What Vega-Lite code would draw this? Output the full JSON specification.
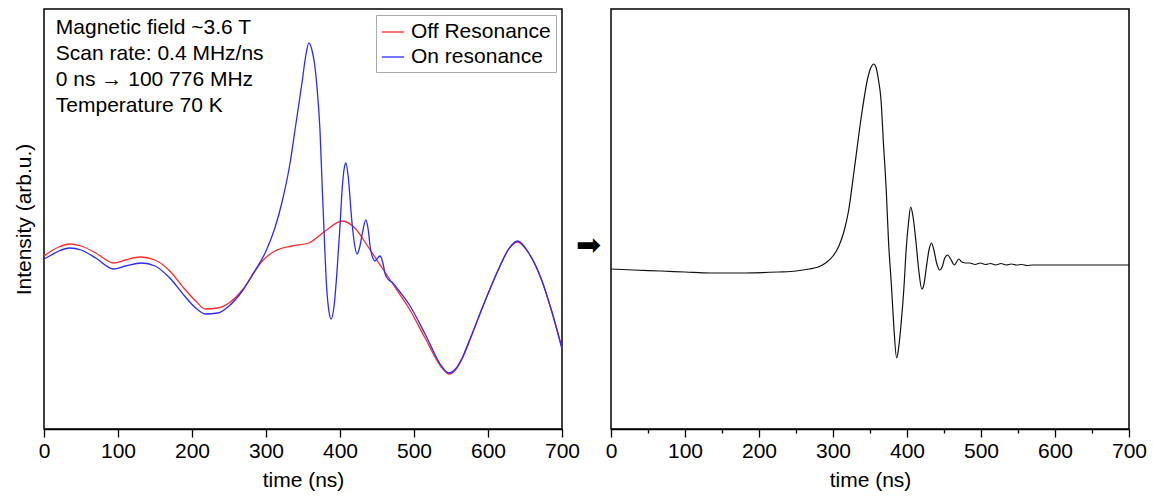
{
  "$schema": "https://vega.github.io/schema/vega-lite/v6.json",
  "padding": {"left": 12, "top": 8, "right": 10, "bottom": 0},
  "autosize": {"type": "pad"},
  "bounds": "flush",
  "spacing": 5,
  "resolve": {"scale": {"color": "independent"}, "legend": {"color": "independent"}},
  "config": {
    "font": "Liberation Sans",
    "view": {"stroke": "#000", "strokeWidth": 1.5},
    "axis": {
      "labelFont": "Liberation Sans", "titleFont": "Liberation Sans",
      "labelFontSize": 21, "titleFontSize": 21, "titleFontWeight": "normal",
      "labelColor": "#000", "titleColor": "#000", "domainColor": "#000", "tickColor": "#000",
      "domainWidth": 1.5, "tickWidth": 1.3, "grid": false
    }
  },
  "datasets": {
    "left": [
      {"series": "Off Resonance", "t": 0, "v": 173},
      {"series": "Off Resonance", "t": 10, "v": 178},
      {"series": "Off Resonance", "t": 20, "v": 182},
      {"series": "Off Resonance", "t": 35, "v": 185},
      {"series": "Off Resonance", "t": 50, "v": 183},
      {"series": "Off Resonance", "t": 70, "v": 176},
      {"series": "Off Resonance", "t": 94, "v": 166},
      {"series": "Off Resonance", "t": 110, "v": 169},
      {"series": "Off Resonance", "t": 130, "v": 172},
      {"series": "Off Resonance", "t": 150, "v": 169},
      {"series": "Off Resonance", "t": 170, "v": 158},
      {"series": "Off Resonance", "t": 190, "v": 140},
      {"series": "Off Resonance", "t": 205, "v": 128},
      {"series": "Off Resonance", "t": 218, "v": 120},
      {"series": "Off Resonance", "t": 235, "v": 121},
      {"series": "Off Resonance", "t": 250, "v": 126},
      {"series": "Off Resonance", "t": 268, "v": 139},
      {"series": "Off Resonance", "t": 285, "v": 158},
      {"series": "Off Resonance", "t": 295, "v": 168},
      {"series": "Off Resonance", "t": 312, "v": 178},
      {"series": "Off Resonance", "t": 335, "v": 183},
      {"series": "Off Resonance", "t": 358, "v": 186},
      {"series": "Off Resonance", "t": 380, "v": 198},
      {"series": "Off Resonance", "t": 403, "v": 208},
      {"series": "Off Resonance", "t": 420, "v": 201},
      {"series": "Off Resonance", "t": 439, "v": 181},
      {"series": "Off Resonance", "t": 457, "v": 161},
      {"series": "Off Resonance", "t": 475, "v": 141},
      {"series": "Off Resonance", "t": 493, "v": 121},
      {"series": "Off Resonance", "t": 515, "v": 91},
      {"series": "Off Resonance", "t": 538, "v": 61},
      {"series": "Off Resonance", "t": 547, "v": 55},
      {"series": "Off Resonance", "t": 556, "v": 59},
      {"series": "Off Resonance", "t": 565, "v": 70},
      {"series": "Off Resonance", "t": 574, "v": 86},
      {"series": "Off Resonance", "t": 596, "v": 128},
      {"series": "Off Resonance", "t": 615, "v": 161},
      {"series": "Off Resonance", "t": 628, "v": 180},
      {"series": "Off Resonance", "t": 640, "v": 187},
      {"series": "Off Resonance", "t": 655, "v": 176},
      {"series": "Off Resonance", "t": 673, "v": 148},
      {"series": "Off Resonance", "t": 686, "v": 118},
      {"series": "Off Resonance", "t": 700, "v": 81},
      {"series": "On resonance", "t": 0, "v": 170},
      {"series": "On resonance", "t": 10, "v": 174},
      {"series": "On resonance", "t": 20, "v": 178},
      {"series": "On resonance", "t": 35, "v": 181},
      {"series": "On resonance", "t": 50, "v": 179},
      {"series": "On resonance", "t": 70, "v": 171},
      {"series": "On resonance", "t": 94, "v": 160},
      {"series": "On resonance", "t": 110, "v": 163},
      {"series": "On resonance", "t": 132, "v": 166},
      {"series": "On resonance", "t": 150, "v": 163},
      {"series": "On resonance", "t": 170, "v": 151},
      {"series": "On resonance", "t": 190, "v": 133},
      {"series": "On resonance", "t": 205, "v": 121},
      {"series": "On resonance", "t": 218, "v": 115},
      {"series": "On resonance", "t": 235, "v": 116},
      {"series": "On resonance", "t": 250, "v": 123},
      {"series": "On resonance", "t": 268, "v": 138},
      {"series": "On resonance", "t": 285, "v": 158},
      {"series": "On resonance", "t": 300, "v": 178},
      {"series": "On resonance", "t": 312, "v": 201},
      {"series": "On resonance", "t": 322, "v": 228},
      {"series": "On resonance", "t": 333, "v": 268},
      {"series": "On resonance", "t": 339, "v": 298},
      {"series": "On resonance", "t": 345, "v": 328},
      {"series": "On resonance", "t": 349, "v": 348},
      {"series": "On resonance", "t": 353, "v": 370},
      {"series": "On resonance", "t": 358, "v": 386},
      {"series": "On resonance", "t": 363, "v": 376},
      {"series": "On resonance", "t": 366, "v": 363},
      {"series": "On resonance", "t": 369, "v": 341},
      {"series": "On resonance", "t": 373, "v": 298},
      {"series": "On resonance", "t": 376, "v": 241},
      {"series": "On resonance", "t": 379, "v": 188},
      {"series": "On resonance", "t": 382, "v": 141},
      {"series": "On resonance", "t": 385, "v": 118},
      {"series": "On resonance", "t": 388, "v": 110},
      {"series": "On resonance", "t": 392, "v": 123},
      {"series": "On resonance", "t": 396, "v": 158},
      {"series": "On resonance", "t": 400, "v": 203},
      {"series": "On resonance", "t": 403, "v": 241},
      {"series": "On resonance", "t": 406, "v": 262},
      {"series": "On resonance", "t": 408, "v": 266},
      {"series": "On resonance", "t": 411, "v": 253},
      {"series": "On resonance", "t": 416, "v": 208},
      {"series": "On resonance", "t": 420, "v": 183},
      {"series": "On resonance", "t": 423, "v": 175},
      {"series": "On resonance", "t": 427, "v": 183},
      {"series": "On resonance", "t": 430, "v": 195},
      {"series": "On resonance", "t": 435, "v": 209},
      {"series": "On resonance", "t": 438, "v": 200},
      {"series": "On resonance", "t": 441, "v": 181},
      {"series": "On resonance", "t": 445, "v": 170},
      {"series": "On resonance", "t": 447, "v": 168},
      {"series": "On resonance", "t": 451, "v": 171},
      {"series": "On resonance", "t": 454, "v": 173},
      {"series": "On resonance", "t": 458, "v": 166},
      {"series": "On resonance", "t": 461, "v": 155},
      {"series": "On resonance", "t": 466, "v": 149},
      {"series": "On resonance", "t": 470, "v": 147},
      {"series": "On resonance", "t": 480, "v": 138},
      {"series": "On resonance", "t": 493, "v": 125},
      {"series": "On resonance", "t": 515, "v": 95},
      {"series": "On resonance", "t": 538, "v": 62},
      {"series": "On resonance", "t": 547, "v": 56},
      {"series": "On resonance", "t": 556, "v": 60},
      {"series": "On resonance", "t": 565, "v": 71},
      {"series": "On resonance", "t": 574, "v": 87},
      {"series": "On resonance", "t": 596, "v": 128},
      {"series": "On resonance", "t": 615, "v": 161},
      {"series": "On resonance", "t": 628, "v": 180},
      {"series": "On resonance", "t": 640, "v": 188},
      {"series": "On resonance", "t": 655, "v": 176},
      {"series": "On resonance", "t": 673, "v": 148},
      {"series": "On resonance", "t": 686, "v": 118},
      {"series": "On resonance", "t": 700, "v": 80}
    ],
    "right": [
      {"t": 0, "v": 160}, {"t": 30, "v": 159}, {"t": 68, "v": 158}, {"t": 100, "v": 157},
      {"t": 135, "v": 156}, {"t": 180, "v": 156}, {"t": 226, "v": 157}, {"t": 250, "v": 158},
      {"t": 268, "v": 160}, {"t": 280, "v": 162}, {"t": 290, "v": 166}, {"t": 300, "v": 173},
      {"t": 308, "v": 183}, {"t": 315, "v": 198}, {"t": 321, "v": 218},
      {"t": 329, "v": 261}, {"t": 338, "v": 311}, {"t": 347, "v": 351},
      {"t": 351, "v": 361}, {"t": 355, "v": 365}, {"t": 358, "v": 362}, {"t": 361, "v": 351},
      {"t": 365, "v": 328}, {"t": 368, "v": 288}, {"t": 372, "v": 238}, {"t": 375, "v": 188},
      {"t": 379, "v": 143}, {"t": 382, "v": 105}, {"t": 386, "v": 71}, {"t": 389, "v": 83},
      {"t": 392, "v": 105}, {"t": 396, "v": 143}, {"t": 399, "v": 181}, {"t": 402, "v": 206},
      {"t": 405, "v": 222}, {"t": 408, "v": 213}, {"t": 412, "v": 188}, {"t": 416, "v": 158},
      {"t": 420, "v": 140}, {"t": 423, "v": 145}, {"t": 426, "v": 161}, {"t": 430, "v": 180},
      {"t": 433, "v": 186}, {"t": 436, "v": 180}, {"t": 440, "v": 166}, {"t": 444, "v": 159},
      {"t": 448, "v": 163}, {"t": 451, "v": 171}, {"t": 455, "v": 174}, {"t": 459, "v": 170},
      {"t": 464, "v": 164}, {"t": 467, "v": 167}, {"t": 470, "v": 170}, {"t": 474, "v": 167},
      {"t": 480, "v": 166}, {"t": 485, "v": 166}, {"t": 492, "v": 164.5}, {"t": 499, "v": 166},
      {"t": 506, "v": 164.5}, {"t": 513, "v": 165.5}, {"t": 520, "v": 164}, {"t": 527, "v": 165.5},
      {"t": 534, "v": 164}, {"t": 541, "v": 165}, {"t": 548, "v": 164}, {"t": 555, "v": 164.5},
      {"t": 562, "v": 163.5}, {"t": 570, "v": 164}, {"t": 600, "v": 164}, {"t": 650, "v": 164},
      {"t": 700, "v": 164}
    ]
  },
  "hconcat": [
    {
      "width": 518,
      "height": 420,
      "layer": [
        {
          "data": {"name": "left"},
          "mark": {"type": "line", "strokeWidth": 1.3, "interpolate": "monotone"},
          "encoding": {
            "x": {
              "field": "t", "type": "quantitative",
              "scale": {"domain": [0, 700], "nice": false},
              "axis": {
                "title": "time (ns)",
                "values": [0, 50, 100, 150, 200, 250, 300, 350, 400, 450, 500, 550, 600, 650, 700],
                "labelExpr": "datum.value % 100 === 0 ? datum.label : ''",
                "tickSize": {"condition": {"test": "datum.value % 100 === 0", "value": 8}, "value": 4},
                "labelPadding": 3, "titlePadding": 8, "labelFlush": false, "labelOverlap": false
              }
            },
            "y": {
              "field": "v", "type": "quantitative",
              "scale": {"domain": [0, 420], "nice": false, "zero": false},
              "axis": {"title": "Intensity (arb.u.)", "labels": false, "ticks": false, "domain": false, "titlePadding": 10}
            },
            "color": {
              "field": "series", "type": "nominal",
              "scale": {"domain": ["Off Resonance", "On resonance"], "range": ["#ff2a2a", "#2a2aff"]},
              "legend": {
                "orient": "top-right", "title": null, "offset": 6,
                "strokeColor": "#aaaaaa", "fillColor": "white", "padding": 5,
                "labelFontSize": 21, "labelFont": "Liberation Sans", "labelColor": "#000",
                "symbolType": "stroke", "symbolSize": 500, "symbolStrokeWidth": 1.3,
                "rowPadding": 3, "labelOffset": 6
              }
            }
          }
        },
        {
          "data": {"values": [{"note": "Magnetic field ~3.6 T\nScan rate: 0.4 MHz/ns\n0 ns → 100 776 MHz\nTemperature 70 K"}]},
          "mark": {"type": "text", "align": "left", "baseline": "top", "fontSize": 21, "lineHeight": 26, "lineBreak": "\n", "font": "Liberation Sans", "color": "#000"},
          "encoding": {
            "x": {"datum": 16, "type": "quantitative"},
            "y": {"datum": 412, "type": "quantitative"},
            "text": {"field": "note"}
          }
        }
      ]
    },
    {
      "width": 39,
      "height": 420,
      "view": {"stroke": null},
      "data": {"values": [{"a": "➡"}]},
      "mark": {"type": "text", "fontSize": 30, "dy": 27, "dx": 2, "font": "DejaVu Sans", "color": "#000"},
      "encoding": {"text": {"field": "a"}}
    },
    {
      "width": 518,
      "height": 420,
      "data": {"name": "right"},
      "mark": {"type": "line", "strokeWidth": 1.2, "color": "#111", "interpolate": "monotone"},
      "encoding": {
        "x": {
          "field": "t", "type": "quantitative",
          "scale": {"domain": [0, 700], "nice": false},
          "axis": {
            "title": "time (ns)",
            "values": [0, 50, 100, 150, 200, 250, 300, 350, 400, 450, 500, 550, 600, 650, 700],
            "labelExpr": "datum.value % 100 === 0 ? datum.label : ''",
            "tickSize": {"condition": {"test": "datum.value % 100 === 0", "value": 8}, "value": 4},
            "labelPadding": 3, "titlePadding": 8, "labelFlush": false, "labelOverlap": false
          }
        },
        "y": {
          "field": "v", "type": "quantitative",
          "scale": {"domain": [0, 420], "nice": false, "zero": false},
          "axis": {"title": null, "labels": false, "ticks": false, "domain": false}
        }
      }
    }
  ]
}
